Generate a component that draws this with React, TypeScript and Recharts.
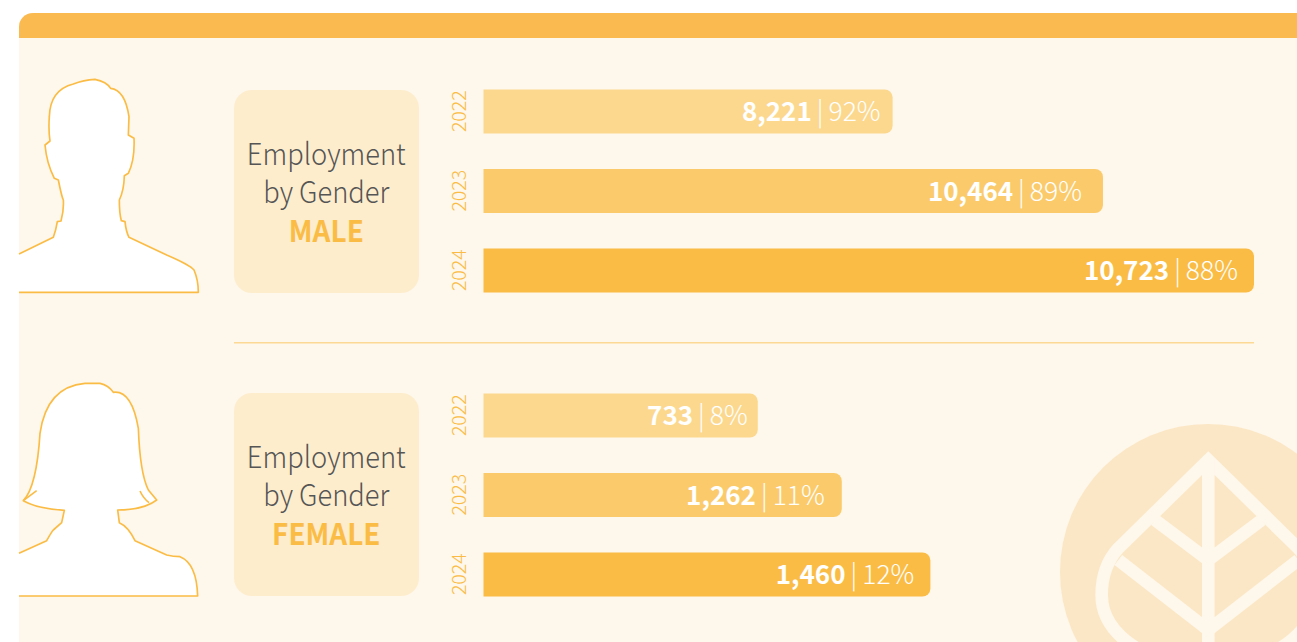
import React from 'react';
import { BarChart, Bar, XAxis, YAxis, Cell, LabelList } from 'recharts';

const years = ['2022', '2023', '2024'];

const maleCounts = ['8,221', '10,464', '10,723'];
const malePercents = ['92%', '89%', '88%'];
// the bars in the source are not to scale with their numbers, so lengths are read
// separately, as a share of the longest bar
const maleBarShare = [53.1, 80.4, 100];

const femaleCounts = ['733', '1,262', '1,460'];
const femalePercents = ['8%', '11%', '12%'];
const femaleBarShare = [35.6, 46.5, 58];

const BAR_COLORS = ['#FCD88E', '#FBCB6B', '#FBBC45'];
const ORANGE = '#FBBC45';
const CREAM = '#FEF7EB';
const FONT = '"Noto Sans CJK JP", "Noto Sans", sans-serif';

// gap between the label and the bar end differs per bar in the source
const MALE_INSETS = [12, 21, 16];
const FEMALE_INSETS = [10, 17, 16];

const makeRows = (counts: string[], percents: string[], share: number[]) =>
  years.map((year, i) => ({ year, count: counts[i], percent: percents[i], share: share[i] }));

const YearTick = ({ x, y, payload }: any) => (
  <text
    transform={`rotate(-90 ${x} ${y})`}
    x={x}
    y={y}
    textAnchor="middle"
    dominantBaseline="central"
    fontFamily={FONT}
    fontWeight={300}
    fontSize={19.5}
    fill={ORANGE}
  >
    {payload.value}
  </text>
);

const GenderBars = ({ rows, top, insets }: { rows: any[]; top: number; insets: number[] }) => {
  const BarLabel = ({ x, y, width, height, index }: any) => (
    <text
      x={x + width - insets[index]}
      y={y + height / 2 + 9.5}
      textAnchor="end"
      fontFamily={FONT}
      fontSize={26.5}
      fill="#fff"
    >
      <tspan fontWeight={700} fontSize={26}>{rows[index].count}</tspan>
      <tspan fontWeight={300} dx={5}>|</tspan>
      <tspan fontWeight={300} dx={5}>{rows[index].percent}</tspan>
    </text>
  );

  return (
    <div style={{ position: 'absolute', left: 440, top }}>
      <BarChart
        width={840}
        height={260}
        data={rows}
        layout="vertical"
        margin={{ top: 11.5, right: 26, bottom: 10, left: 0 }}
      >
        <XAxis type="number" domain={[0, 100]} hide />
        <YAxis
          type="category"
          dataKey="year"
          width={43.5}
          axisLine={false}
          tickLine={false}
          tick={<YearTick />}
          tickMargin={20}
          interval={0}
        />
        <Bar dataKey="share" barSize={44} radius={[0, 8, 8, 0]} isAnimationActive={false}>
          {rows.map((row, i) => (
            <Cell key={row.year} fill={BAR_COLORS[i]} />
          ))}
          <LabelList dataKey="share" content={<BarLabel />} />
        </Bar>
      </BarChart>
    </div>
  );
};

const GenderBox = ({ label, top }: { label: string; top: number }) => (
  <div
    style={{
      position: 'absolute',
      left: 234,
      top,
      width: 185,
      height: 201,
      paddingBottom: 2,
      borderRadius: 18,
      background: '#FDEDCD',
      display: 'flex',
      flexDirection: 'column',
      justifyContent: 'center',
      alignItems: 'center',
      fontFamily: FONT,
      fontSize: 30,
      lineHeight: '38.5px',
      fontWeight: 300,
      color: '#555',
    }}
  >
    <div style={{ transform: 'scaleX(0.91)' }}>Employment</div>
    <div style={{ transform: 'scaleX(0.91)' }}>by Gender</div>
    <div style={{ transform: 'scaleX(0.93)', fontWeight: 700, color: ORANGE }}>{label}</div>
  </div>
);

// silhouettes and the leaf are traced in 3x coordinates
const Decorations = () => (
  <svg
    width={1297}
    height={642}
    viewBox="0 0 3891 1926"
    style={{ position: 'absolute', left: 0, top: 0 }}
  >
    <g fill="#fff" stroke={ORANGE} strokeWidth={5} strokeLinejoin="round">
      <path d="M57 762 L160 712 Q168 690 172 665 L183 663 Q192 630 190 600 Q185 590 175 540 L163 535 Q140 490 135 435 L150 423 Q145 390 148 350 Q150 270 220 252 Q250 240 285 238 Q320 245 332 265 Q375 270 387 350 L385 405 L402 415 Q405 480 385 520 L373 527 Q372 570 358 600 Q358 640 364 662 L375 665 Q378 695 387 712 L500 765 Q570 795 582 810 Q595 840 595 877 L57 877" />
      <g transform="translate(0 990)">
        <path d="M57 670 L140 632 Q155 605 160 600 L185 578 L193 541 Q110 535 70 512 Q110 470 120 310 Q140 170 255 160 L300 160 Q325 165 340 187 Q395 180 415 295 Q420 430 445 480 L470 510 Q430 540 353 540 L358 578 Q385 590 405 632 L500 675 Q520 680 540 680 Q590 700 593 798 L57 798" />
        <path d="M70 512 L110 482 M420 483 Q430 505 447 518" fill="none" />
      </g>
    </g>
    <path d="M702 1028.5 H3762" stroke="#FBCB6B" strokeWidth={3} />
    <circle cx={3624} cy={1716} r={444} fill="#FBE7C5" />
    <g
      transform="translate(3120 1200)"
      fill="none"
      stroke={CREAM}
      strokeWidth={38}
      strokeLinejoin="miter"
    >
      <path d="M505 180 L235 445 Q185 500 185 585 Q185 680 290 745 L505 900 L720 745 Q825 680 825 585 Q825 500 775 445 Z" />
      <path d="M505 180 V900 M345 360 L505 480 L665 360 M235 480 L505 690 L775 480" />
    </g>
  </svg>
);

export default function App() {
  return (
    <div
      style={{
        position: 'absolute',
        left: 0,
        top: 0,
        width: 1297,
        height: 642,
        overflow: 'hidden',
        background: '#fff',
      }}
    >
      <div
        style={{
          position: 'absolute',
          left: 19,
          top: 13,
          width: 1290,
          height: 640,
          background: CREAM,
          borderRadius: '14px 0 0 0',
          overflow: 'hidden',
        }}
      >
        <div style={{ height: 25, background: '#FBBA4F' }} />
      </div>
      <Decorations />
      <GenderBox label="MALE" top={90} />
      <GenderBox label="FEMALE" top={393} />
      <GenderBars rows={makeRows(maleCounts, malePercents, maleBarShare)} insets={MALE_INSETS} top={60} />
      <GenderBars rows={makeRows(femaleCounts, femalePercents, femaleBarShare)} insets={FEMALE_INSETS} top={363.5} />
    </div>
  );
}
